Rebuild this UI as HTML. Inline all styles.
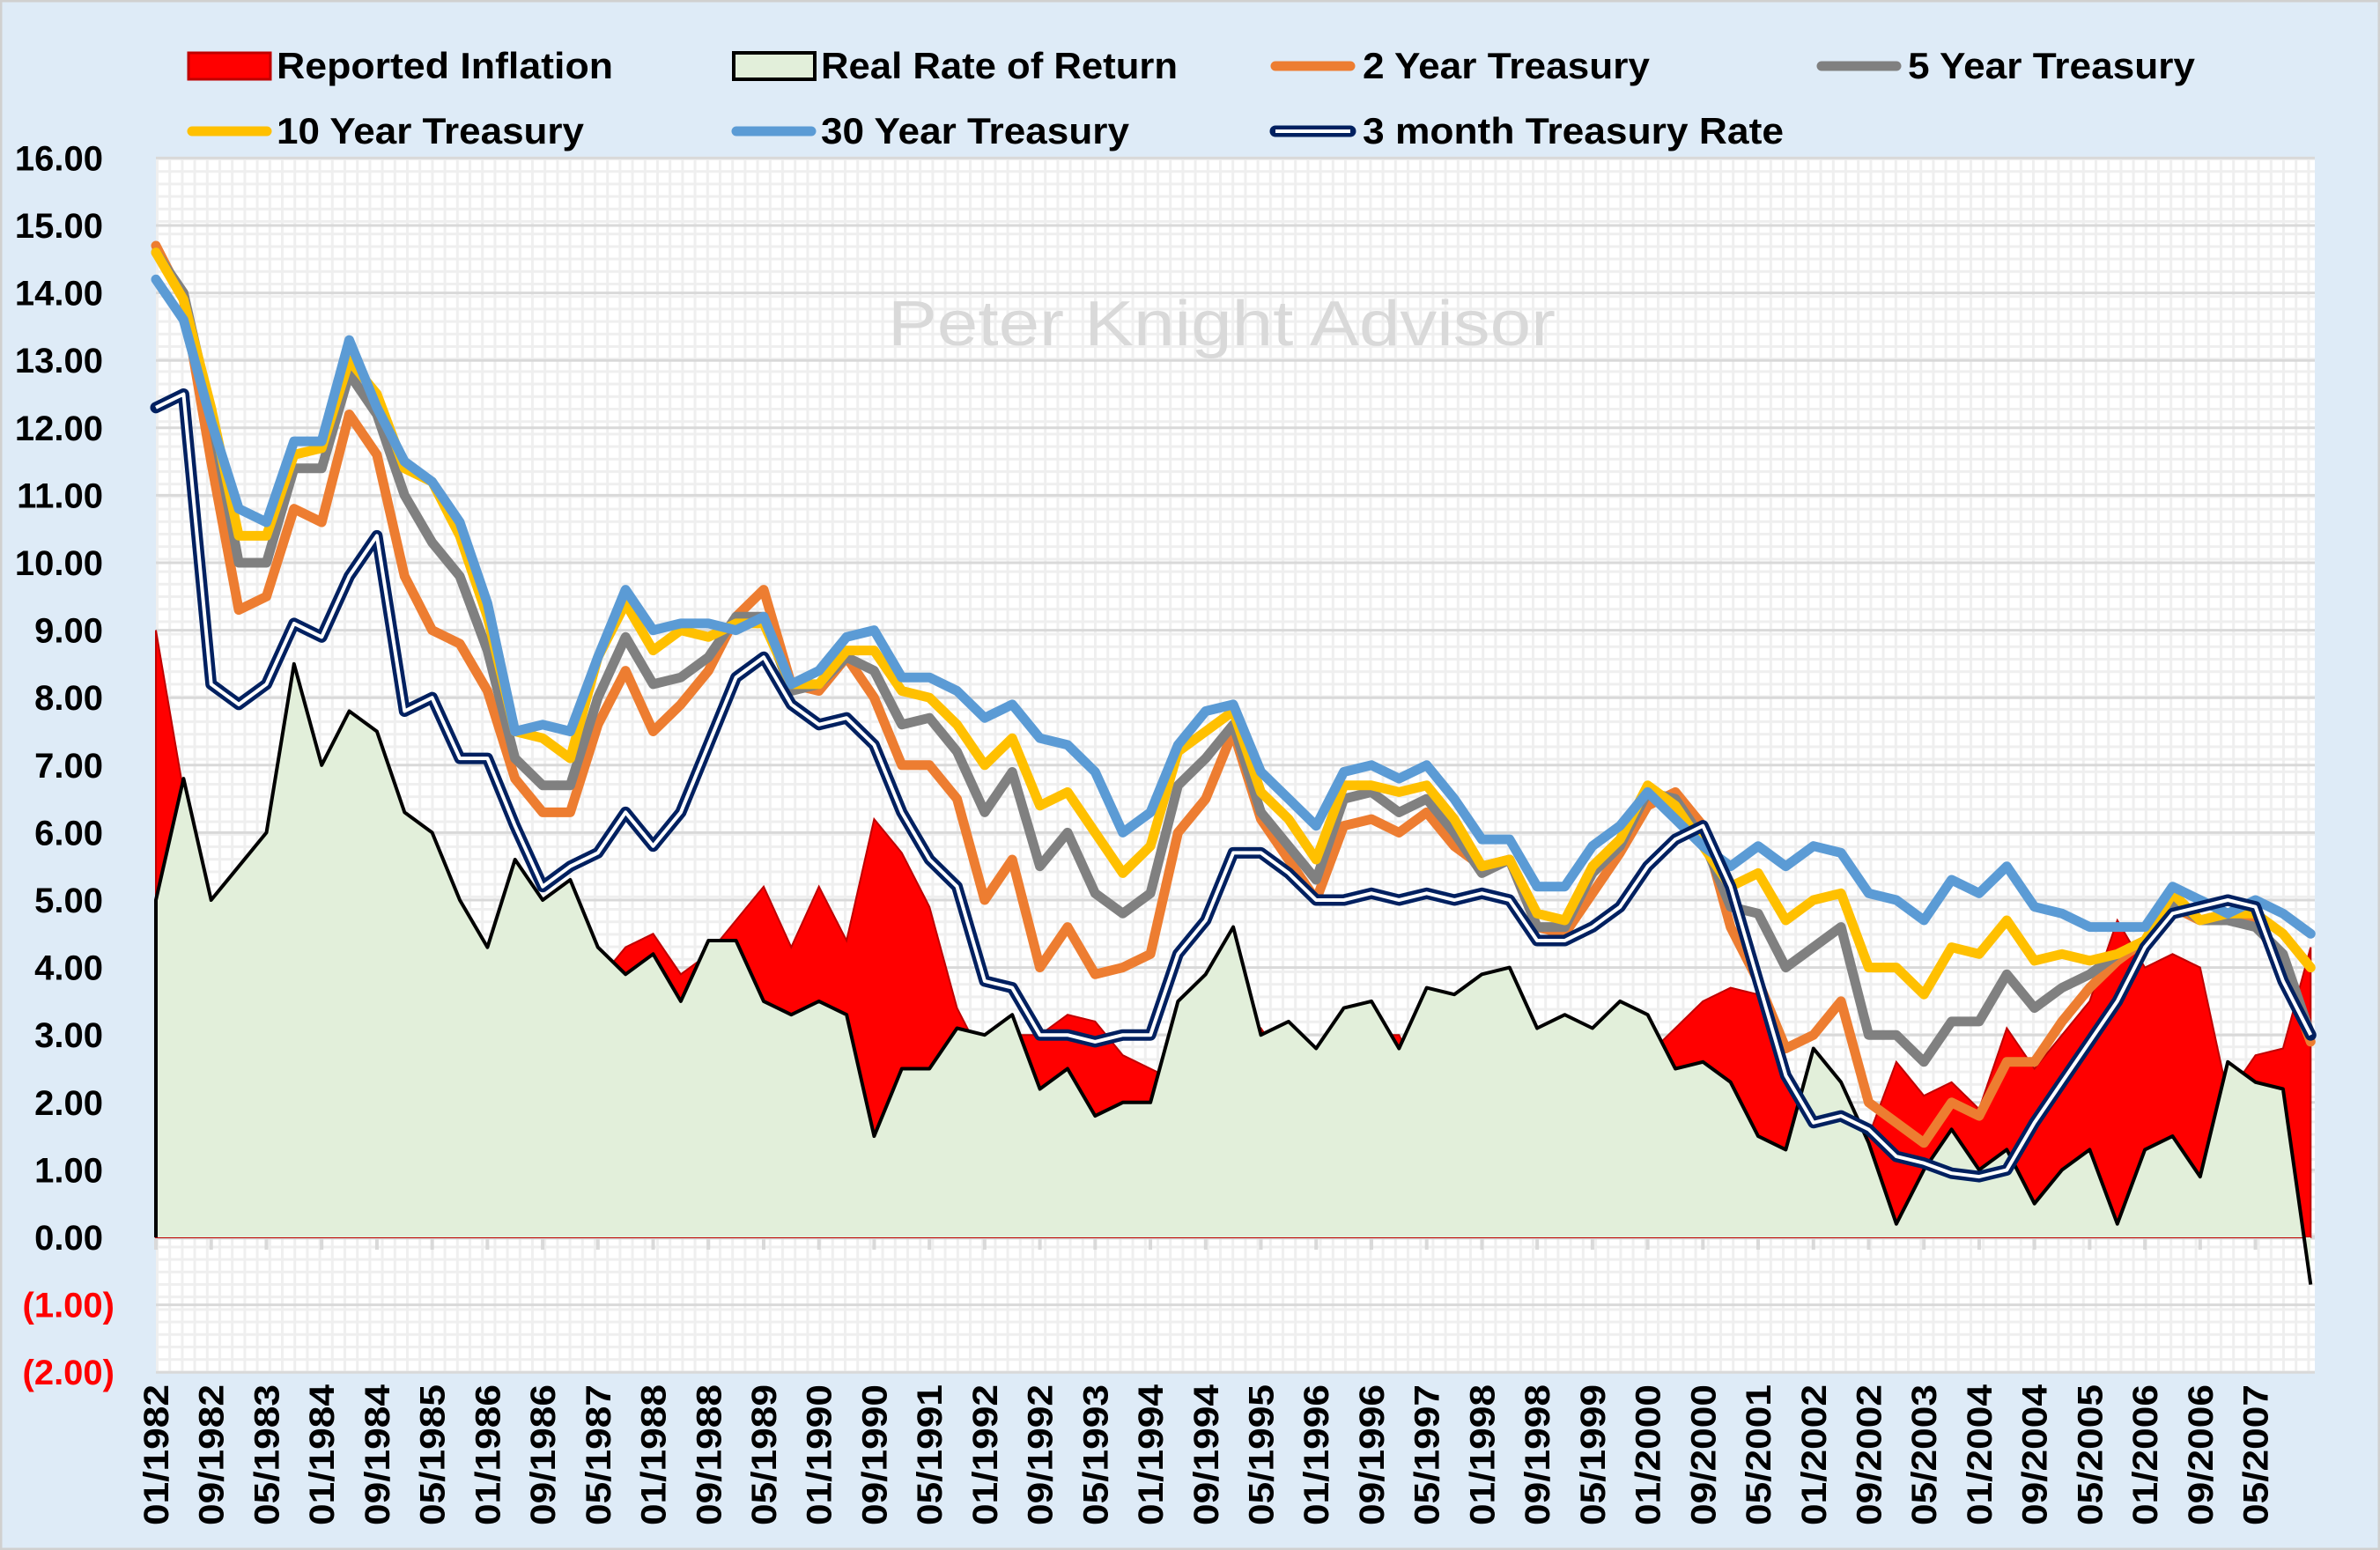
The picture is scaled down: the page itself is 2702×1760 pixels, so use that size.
<!DOCTYPE html>
<html><head><meta charset="utf-8"><style>
html,body{margin:0;padding:0;background:#DEEBF7;}
svg{display:block;font-family:"Liberation Sans",sans-serif;}
</style></head><body>
<svg id="chart" width="2702" height="1760" viewBox="0 0 2702 1760" xmlns="http://www.w3.org/2000/svg">
<defs>
<pattern id="minor" x="177" y="179" width="14.2" height="14.2" patternUnits="userSpaceOnUse">
<rect width="14.2" height="14.2" fill="#ffffff"/>
<rect x="0" y="0" width="3" height="14.2" fill="#efefef"/>
<rect x="0" y="0" width="14.2" height="3" fill="#efefef"/>
</pattern>
</defs>
<rect x="1" y="1" width="2700" height="1758" fill="#DEEBF7" stroke="#d0d0d0" stroke-width="3"/>
<rect x="177" y="179" width="2451" height="1379" fill="url(#minor)"/>
<g id="grid"></g>
<text x="1008" y="392" font-size="72" fill="#d9d9d9" textLength="758" lengthAdjust="spacingAndGlyphs">Peter Knight Advisor</text>
<g id="areas"></g>
<g id="lines"></g>
<g id="yaxis" font-weight="bold" font-size="40"></g>
<g id="xaxis" font-weight="bold" font-size="40"></g>
<g id="legend" font-weight="bold" font-size="42">
<rect x="214" y="60" width="93" height="30" fill="#ff0000" stroke="#c00000" stroke-width="3"/>
<text x="314" y="89" textLength="382" lengthAdjust="spacingAndGlyphs">Reported Inflation</text>
<rect x="833" y="60" width="92" height="30" fill="#E2EFDA" stroke="#000" stroke-width="4"/>
<text x="932" y="89" textLength="405" lengthAdjust="spacingAndGlyphs">Real Rate of Return</text>
<line x1="1448" y1="75" x2="1533" y2="75" stroke="#ED7D31" stroke-width="11" stroke-linecap="round"/>
<text x="1547" y="89" textLength="326" lengthAdjust="spacingAndGlyphs">2 Year Treasury</text>
<line x1="2068" y1="75" x2="2153" y2="75" stroke="#808080" stroke-width="11" stroke-linecap="round"/>
<text x="2166" y="89" textLength="326" lengthAdjust="spacingAndGlyphs">5 Year Treasury</text>
<line x1="218" y1="149" x2="303" y2="149" stroke="#FFC000" stroke-width="11" stroke-linecap="round"/>
<text x="314" y="163" textLength="349" lengthAdjust="spacingAndGlyphs">10 Year Treasury</text>
<line x1="836" y1="149" x2="921" y2="149" stroke="#5B9BD5" stroke-width="11" stroke-linecap="round"/>
<text x="932" y="163" textLength="350" lengthAdjust="spacingAndGlyphs">30 Year Treasury</text>
<line x1="1448" y1="149" x2="1533" y2="149" stroke="#002060" stroke-width="13" stroke-linecap="round"/>
<line x1="1448" y1="149" x2="1533" y2="149" stroke="#ffffff" stroke-width="4"/>
<text x="1547" y="163" textLength="478" lengthAdjust="spacingAndGlyphs">3 month Treasury Rate</text>
</g>
</svg>
<script>
const dates = ["1982-01","1982-05","1982-09","1983-01","1983-05","1983-09","1984-01","1984-05","1984-09","1985-01","1985-05","1985-09","1986-01","1986-05","1986-09","1987-01","1987-05","1987-09","1988-01","1988-05","1988-09","1989-01","1989-05","1989-09","1990-01","1990-05","1990-09","1991-01","1991-05","1991-09","1992-01","1992-05","1992-09","1993-01","1993-05","1993-09","1994-01","1994-05","1994-09","1995-01","1995-05","1995-09","1996-01","1996-05","1996-09","1997-01","1997-05","1997-09","1998-01","1998-05","1998-09","1999-01","1999-05","1999-09","2000-01","2000-05","2000-09","2001-01","2001-05","2001-09","2002-01","2002-05","2002-09","2003-01","2003-05","2003-09","2004-01","2004-05","2004-09","2005-01","2005-05","2005-09","2006-01","2006-05","2006-09","2007-01","2007-05","2007-09","2008-01"];
const tenYear = [14.6,13.9,12.3,10.4,10.4,11.6,11.7,13.0,12.5,11.4,11.2,10.4,9.2,7.5,7.4,7.1,8.6,9.4,8.7,9.0,8.9,9.1,9.1,8.2,8.2,8.7,8.7,8.1,8.0,7.6,7.0,7.4,6.4,6.6,6.0,5.4,5.8,7.2,7.5,7.8,6.6,6.2,5.6,6.7,6.7,6.6,6.7,6.2,5.5,5.6,4.8,4.7,5.5,5.9,6.7,6.4,5.8,5.2,5.4,4.7,5.0,5.1,4.0,4.0,3.6,4.3,4.2,4.7,4.1,4.2,4.1,4.2,4.4,5.1,4.7,4.8,4.8,4.5,4.0];
const thirtyYear = [14.2,13.6,12.1,10.8,10.6,11.8,11.8,13.3,12.3,11.5,11.2,10.6,9.4,7.5,7.6,7.5,8.6,9.6,9.0,9.1,9.1,9.0,9.2,8.2,8.4,8.9,9.0,8.3,8.3,8.1,7.7,7.9,7.4,7.3,6.9,6.0,6.3,7.3,7.8,7.9,6.9,6.5,6.1,6.9,7.0,6.8,7.0,6.5,5.9,5.9,5.2,5.2,5.8,6.1,6.6,6.2,5.8,5.5,5.8,5.5,5.8,5.7,5.1,5.0,4.7,5.3,5.1,5.5,4.9,4.8,4.6,4.6,4.6,5.2,5.0,4.8,5.0,4.8,4.5];
const fiveYear = [14.6,14.0,12.2,10.0,10.0,11.4,11.4,12.8,12.2,11.0,10.3,9.8,8.7,7.1,6.7,6.7,8.0,8.9,8.2,8.3,8.6,9.2,9.2,8.1,8.2,8.6,8.4,7.6,7.7,7.2,6.3,6.9,5.5,6.0,5.1,4.8,5.1,6.7,7.1,7.6,6.3,5.8,5.3,6.5,6.6,6.3,6.5,6.0,5.4,5.6,4.6,4.6,5.4,5.8,6.6,6.5,5.9,4.9,4.8,4.0,4.3,4.6,3.0,3.0,2.6,3.2,3.2,3.9,3.4,3.7,3.9,4.2,4.4,5.0,4.7,4.7,4.6,4.2,3.0];
const twoYear = [14.7,13.9,11.5,9.3,9.5,10.8,10.6,12.2,11.6,9.8,9.0,8.8,8.1,6.8,6.3,6.3,7.6,8.4,7.5,7.9,8.4,9.2,9.6,8.2,8.1,8.6,8.0,7.0,7.0,6.5,5.0,5.6,4.0,4.6,3.9,4.0,4.2,6.0,6.5,7.5,6.2,5.6,5.0,6.1,6.2,6.0,6.3,5.8,5.5,5.6,4.6,4.5,5.1,5.7,6.4,6.6,6.1,4.6,3.8,2.8,3.0,3.5,2.0,1.7,1.4,2.0,1.8,2.6,2.6,3.2,3.7,4.1,4.4,4.9,4.7,4.8,4.7,4.0,2.9];
const threeMonth = [12.3,12.5,8.2,7.9,8.2,9.1,8.9,9.8,10.4,7.8,8.0,7.1,7.1,6.1,5.2,5.5,5.7,6.3,5.8,6.3,7.3,8.3,8.6,7.9,7.6,7.7,7.3,6.3,5.6,5.2,3.8,3.7,3.0,3.0,2.9,3.0,3.0,4.2,4.7,5.7,5.7,5.4,5.0,5.0,5.1,5.0,5.1,5.0,5.1,5.0,4.4,4.4,4.6,4.9,5.5,5.9,6.1,5.2,3.8,2.4,1.7,1.8,1.6,1.2,1.1,0.95,0.9,1.0,1.7,2.3,2.9,3.5,4.3,4.8,4.9,5.0,4.9,3.8,3.0];
const realRate = [5.0,6.8,5.0,5.5,6.0,8.5,7.0,7.8,7.5,6.3,6.0,5.0,4.3,5.6,5.0,5.3,4.3,3.9,4.2,3.5,4.4,4.4,3.5,3.3,3.5,3.3,1.5,2.5,2.5,3.1,3.0,3.3,2.2,2.5,1.8,2.0,2.0,3.5,3.9,4.6,3.0,3.2,2.8,3.4,3.5,2.8,3.7,3.6,3.9,4.0,3.1,3.3,3.1,3.5,3.3,2.5,2.6,2.3,1.5,1.3,2.8,2.3,1.4,0.2,1.0,1.6,1.0,1.3,0.5,1.0,1.3,0.2,1.3,1.5,0.9,2.6,2.3,2.2,-0.7];
const inflation = [9.0,6.6,5.0,3.7,3.5,2.9,4.2,4.6,4.3,3.5,3.7,3.2,3.9,1.5,1.8,1.5,3.8,4.3,4.5,3.9,4.2,4.7,5.2,4.3,5.2,4.4,6.2,5.7,4.9,3.4,2.6,3.0,3.0,3.3,3.2,2.7,2.5,2.3,3.0,2.8,3.1,2.5,2.7,2.9,3.0,3.0,2.2,2.2,1.6,1.7,1.5,1.7,2.3,2.6,2.7,3.1,3.5,3.7,3.6,2.6,1.1,1.2,1.5,2.6,2.1,2.3,1.9,3.1,2.5,3.0,3.5,4.7,4.0,4.2,4.0,2.1,2.7,2.8,4.3];
const yTicks = [16,15,14,13,12,11,10,9,8,7,6,5,4,3,2,1,0,-1,-2];
const xTickLabels = ["01/1982","09/1982","05/1983","01/1984","09/1984","05/1985","01/1986","09/1986","05/1987","01/1988","09/1988","05/1989","01/1990","09/1990","05/1991","01/1992","09/1992","05/1993","01/1994","09/1994","05/1995","01/1996","09/1996","05/1997","01/1998","09/1998","05/1999","01/2000","09/2000","05/2001","01/2002","09/2002","05/2003","01/2004","09/2004","05/2005","01/2006","09/2006","05/2007"];

const NS = "http://www.w3.org/2000/svg";
const X0 = 177, X1 = 2628, SPAN = 312.6, Y0 = 1405, YU = 76.6;
function monthOf(s){ const p = s.split(/[-\/]/); if (s.indexOf('/')>0) return (+p[1]-1982)*12 + (+p[0]-1); return (+p[0]-1982)*12 + (+p[1]-1); }
function xScale(m){ return X0 + m/SPAN*(X1-X0); }
function yScale(v){ return Y0 - v*YU; }
function mk(tag, attrs, parent){ const e = document.createElementNS(NS, tag); for (const k in attrs) e.setAttribute(k, attrs[k]); parent.appendChild(e); return e; }
const grid = document.getElementById('grid');
yTicks.forEach(v => {
  const l = mk('line', {x1:X0, x2:X1, y1:yScale(v), y2:yScale(v), stroke:'#d9d9d9', 'stroke-width': v===0?5:3}, grid);
  
  
});
xTickLabels.forEach(t => {
  const l = mk('line', {x1:xScale(monthOf(t)), x2:xScale(monthOf(t)), y1:Y0, y2:Y0+14, stroke:'#d9d9d9', 'stroke-width':4}, grid);
  
  
});
const yax = document.getElementById('yaxis');
yTicks.forEach(v => {
  const neg = v < 0;
  const t = mk('text', {x: neg?130:117, y: yScale(v)+14, 'text-anchor':'end', fill: neg?'#ff0000':'#000'}, yax);
  t.textContent = neg ? '(' + Math.abs(v).toFixed(2) + ')' : v.toFixed(2);
  
  
});
const xax = document.getElementById('xaxis');
xTickLabels.forEach(s => {
  const x = xScale(monthOf(s)) + 14, y = 1732;
  const t = mk('text', {x:x, y:y, transform:'rotate(-90 '+x+' '+y+')', textLength:160, lengthAdjust:'spacingAndGlyphs'}, xax);
  t.textContent = s;
  
  
});
const xs = dates.map(d => xScale(monthOf(d)));
function pts(vals){ return vals.map((v,i) => xs[i].toFixed(1)+','+yScale(v).toFixed(1)).join(' '); }
function areaPath(vals){ return 'M'+xs[0]+','+Y0+' L'+pts(vals).split(' ').join(' L')+' L'+xs[xs.length-1]+','+Y0+' Z'; }
const areas = document.getElementById('areas');
const redA = mk('path', {d: areaPath(inflation), fill:'#ff0000', stroke:'#c00000', 'stroke-width':2}, areas);


const grA = mk('path', {d: areaPath(realRate), fill:'#E2EFDA', stroke:'none'}, areas);


const grL = mk('polyline', {points: xs[0]+','+Y0+' '+pts(realRate), fill:'none', stroke:'#000', 'stroke-width':4, 'stroke-linejoin':'round'}, areas);


const lines = document.getElementById('lines');
[[twoYear,'#ED7D31','line-2yr'],[fiveYear,'#808080','line-5yr'],[tenYear,'#FFC000','line-10yr'],[thirtyYear,'#5B9BD5','line-30yr']].forEach(s => {
  const p = mk('polyline', {points: pts(s[0]), fill:'none', stroke:s[1], 'stroke-width':11, 'stroke-linejoin':'round', 'stroke-linecap':'round'}, lines);
  
  
});
const n1 = mk('polyline', {points: pts(threeMonth), fill:'none', stroke:'#002060', 'stroke-width':13, 'stroke-linejoin':'round', 'stroke-linecap':'round'}, lines);


const n2 = mk('polyline', {points: pts(threeMonth), fill:'none', stroke:'#ffffff', 'stroke-width':4, 'stroke-linejoin':'round'}, lines);


</script>
</body></html>
